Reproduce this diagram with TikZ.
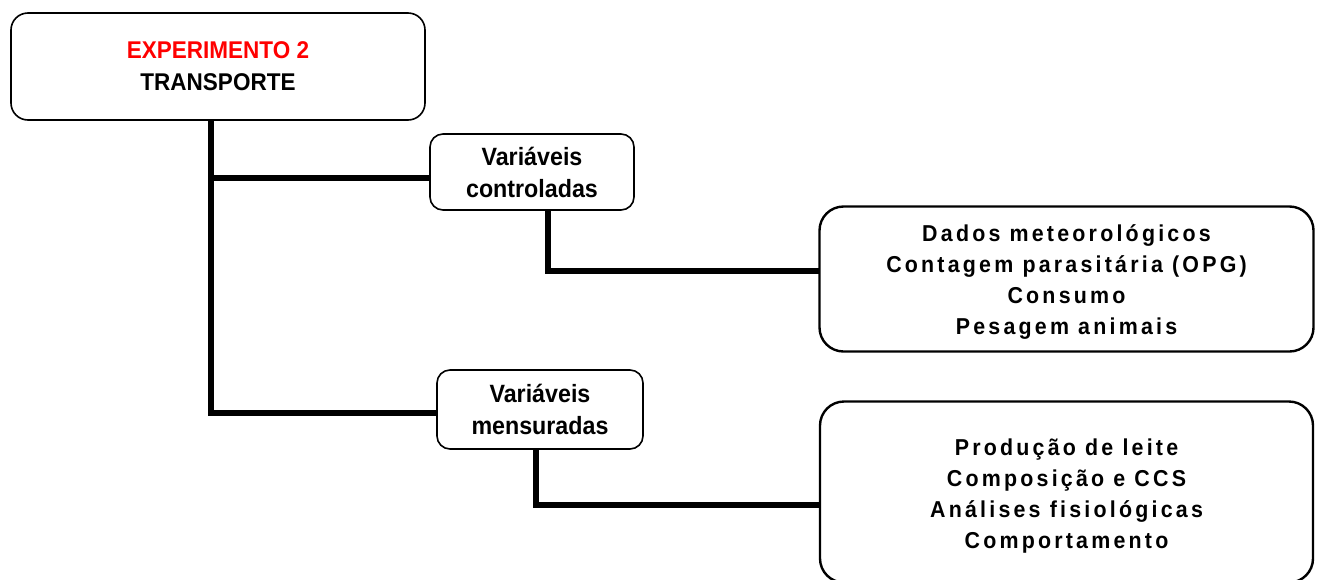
\documentclass[tikz,border=0pt]{standalone}
\usepackage{fontspec}
\setmainfont[FakeStretch=0.93]{Liberation Sans}
\newfontfamily\spacedfont[LetterSpace=14,FakeStretch=0.93]{Liberation Sans}
\definecolor{expred}{RGB}{255,0,0}
\tikzset{
  leftbox/.style={draw=black, line width=1.6pt, rounded corners=13pt, fill=white, align=center, inner sep=0pt,
     font=\bfseries\fontsize{25}{32}\selectfont},
  rightbox/.style={draw=black, line width=2.4pt, rounded corners=24pt, fill=white, inner sep=0pt},
  righttext/.style={align=center, inner sep=0pt, font=\spacedfont\bfseries\fontsize{23}{31.3}\selectfont},
  conn/.style={line width=6pt, line join=miter, line cap=rect},
}
\begin{document}
\begin{tikzpicture}[x=1pt,y=-1pt]
\useasboundingbox (0,0) rectangle (1321,579);
% connectors (drawn first, boxes on top)
\coordinate (topS) at (210.5,120);
\coordinate (ctrlW) at (430,178);
\coordinate (mensW) at (437,413);
\coordinate (ctrlS) at (548,211);
\coordinate (mensS) at (536,449);
\coordinate (dataW) at (819,271);
\coordinate (prodW) at (820,505);
\draw[conn] (topS) |- (ctrlW);
\draw[conn] (topS) |- (mensW);
\draw[conn] (ctrlS) |- (dataW);
\draw[conn] (mensS) |- (prodW);
% boxes
\node[leftbox, rounded corners=17pt, minimum width=414pt, minimum height=107pt, font=\bfseries\fontsize{24.2}{32}\selectfont] (top) at (218,66.5)
  {\textcolor{expred}{EXPERIMENTO 2}\\TRANSPORTE};
\node[leftbox, minimum width=204pt, minimum height=76pt] (ctrl) at (532,172)
  {Variáveis\\controladas};
\node[leftbox, minimum width=206pt, minimum height=79pt] (mens) at (540,409.5)
  {Variáveis\\mensuradas};
\node[rightbox, minimum width=494pt, minimum height=145pt] (data) at (1066.5,279) {};
\node[righttext] (dataT) at ([yshift=-3pt]data.center)
  {Dados meteorológicos\\Contagem parasitária (OPG)\\Consumo\\Pesagem animais};
\node[rightbox, minimum width=493pt, minimum height=181pt] (prod) at (1066.5,492) {};
\node[righttext] (prodT) at ([yshift=-4pt]prod.center)
  {Produção de leite\\Composição e CCS\\Análises fisiológicas\\Comportamento};
\end{tikzpicture}
\end{document}
